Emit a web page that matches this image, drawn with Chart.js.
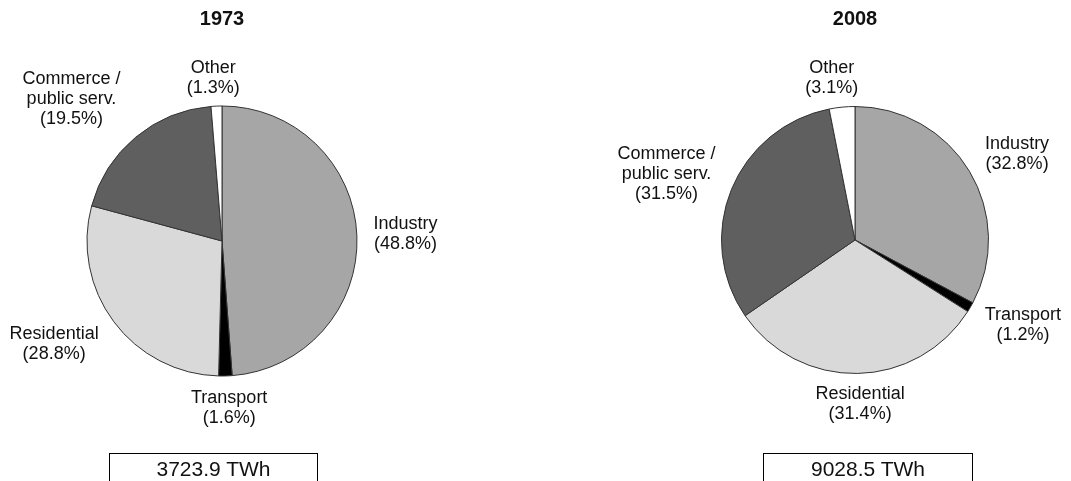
<!DOCTYPE html>
<html>
<head>
<meta charset="utf-8">
<script src="https://cdn.jsdelivr.net/npm/chart.js@4"></script>
<style>
    html, body { margin: 0; padding: 0; background: #ffffff; }
    body { width: 1071px; height: 481px; position: relative; overflow: hidden; font-family: "Liberation Sans", Arial, sans-serif; }
    canvas { position: absolute; top: 0; }
    .total {
        position: absolute;
        top: 453px;
        height: 40px;
        border: 1px solid #000;
        box-sizing: border-box;
        text-align: center;
        font-size: 21px;
        line-height: 29px;
        color: #111;
    }
</style>
</head>
<body>
<canvas id="pie1973" width="444" height="481" style="left:0px"></canvas>
<canvas id="pie2008" width="536" height="481" style="left:535px"></canvas>
<div class="total" id="total1973" style="left:109px; width:209px"></div>
<div class="total" id="total2008" style="left:763px; width:210px"></div>

<script>
// Final electricity consumption by sector, share of total (%)
const sectors = ['Industry', 'Transport', 'Residential', 'Commerce / public serv.', 'Other'];
const sectorLines = [['Industry'], ['Transport'], ['Residential'], ['Commerce /', 'public serv.'], ['Other']];
const years = ['1973', '2008'];
const share1973 = [48.8, 1.6, 28.8, 19.5, 1.3];
const share2008 = [32.8, 1.2, 31.4, 31.5, 3.1];
const totalsTWh = [3723.9, 9028.5];

const sectorColors = ['#a6a6a6', '#000000', '#d9d9d9', '#5f5f5f', '#ffffff'];
const LABEL_FONT = '18px "Liberation Sans", Arial, sans-serif';
const TITLE_FONT = 'bold 20px "Liberation Sans", Arial, sans-serif';

// Draws the year title and the outside labels for each slice
const pieLabels = {
    id: 'pieLabels',
    afterDraw(chart, args, opts) {
        const ctx = chart.ctx;
        const meta = chart.getDatasetMeta(0);
        const values = chart.data.datasets[0].data;
        const lineH = 20;
        ctx.save();
        ctx.fillStyle = '#111';
        ctx.textAlign = 'center';
        ctx.textBaseline = 'middle';

        ctx.font = TITLE_FONT;
        ctx.fillText(opts.title, meta.data[0].x, 19);

        ctx.font = LABEL_FONT;
        meta.data.forEach((arc, i) => {
            const lines = sectorLines[i].concat(['(' + values[i].toFixed(1) + '%)']);
            const w = Math.max(...lines.map(l => ctx.measureText(l).width));
            const h = (lines.length - 1) * lineH + 16;
            const mid = (arc.startAngle + arc.endAngle) / 2;
            const ux = Math.cos(mid);
            const uy = Math.sin(mid);
            // push the text block out until it clears the rim
            const d = arc.outerRadius + opts.gap + Math.abs(ux) * w / 2 + Math.abs(uy) * h / 2;
            const nudge = (opts.nudge && opts.nudge[i]) || [0, 0];
            const cx = arc.x + d * ux + nudge[0];
            const cy = arc.y + d * uy + nudge[1];
            lines.forEach((l, k) => {
                ctx.fillText(l, cx, cy + (k - (lines.length - 1) / 2) * lineH);
            });
        });
        ctx.restore();
    }
};

function makePie(id, title, values, centerX, centerY, radius, nudge) {
    const canvas = document.getElementById(id);
    const pad = {
        left: centerX - radius,
        right: canvas.width - centerX - radius,
        top: centerY - radius,
        bottom: canvas.height - centerY - radius
    };
    return new Chart(canvas, {
        type: 'pie',
        data: {
            labels: sectors,
            datasets: [{
                data: values,
                backgroundColor: sectorColors,
                borderColor: '#333333',
                borderWidth: 1
            }]
        },
        options: {
            responsive: false,
            animation: false,
            layout: { padding: pad },
            plugins: {
                legend: { display: false },
                tooltip: { enabled: false },
                pieLabels: { title: title, gap: 13, nudge: nudge }
            }
        },
        plugins: [pieLabels]
    });
}

makePie('pie1973', years[0], share1973, 222, 241, 135.5,
    [[3, 0], [3, 0], [-12, -13], [-22, 12], [-2, 4]]);
makePie('pie2008', years[1], share2008, 320, 240, 134,
    [[5, 8], [5, -10], [2, -1], [-1, 10], [-7, 4]]);

document.getElementById('total1973').textContent = totalsTWh[0].toFixed(1) + ' TWh';
document.getElementById('total2008').textContent = totalsTWh[1].toFixed(1) + ' TWh';
</script>
</body>
</html>
